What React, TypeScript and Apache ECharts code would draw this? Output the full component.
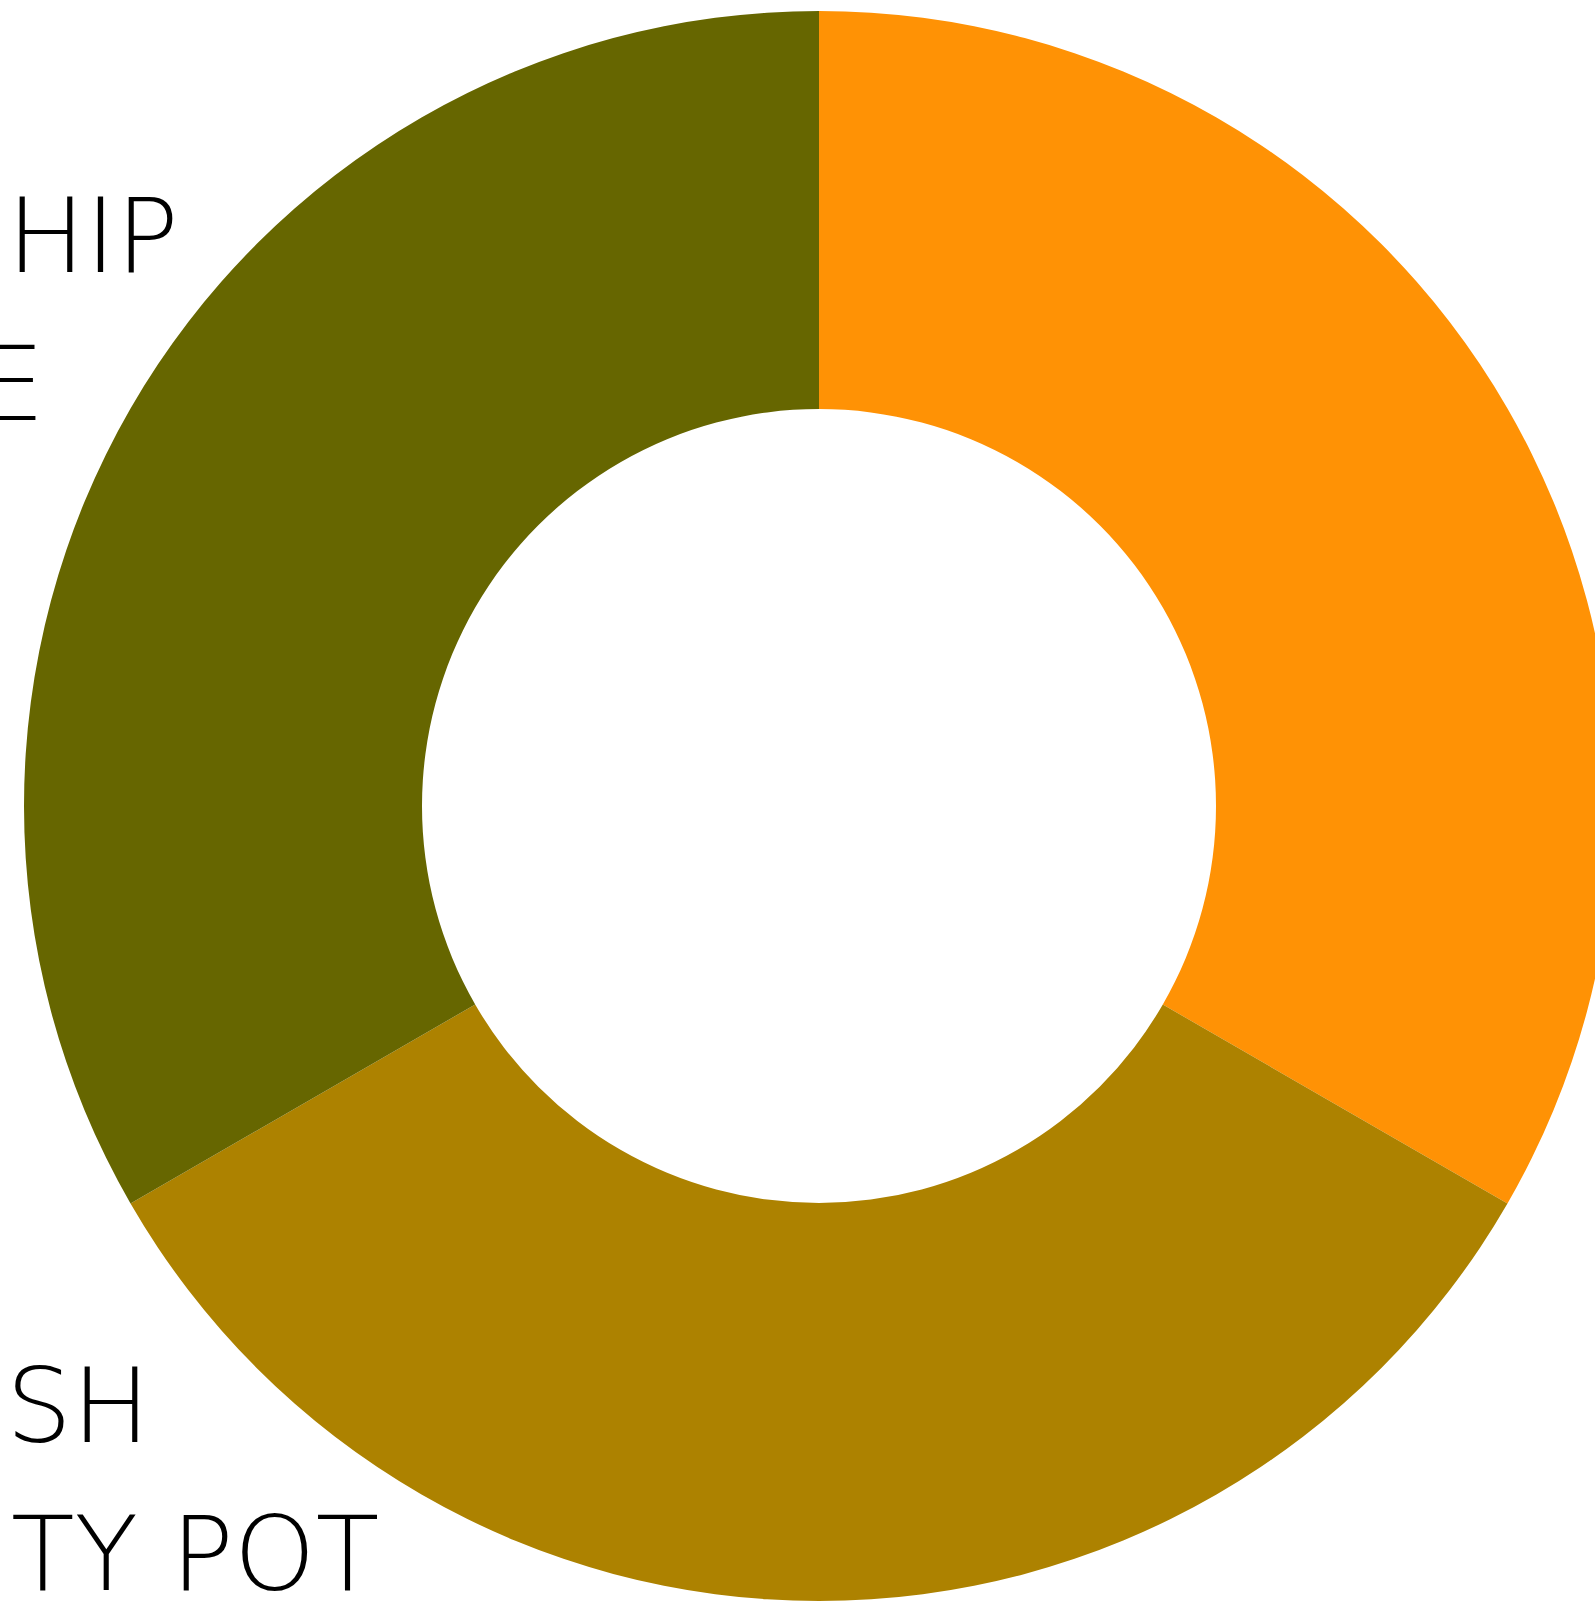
import React, { useEffect, useRef } from "react";
import * as echarts from "echarts";

const categories = ["Orange", "Gold", "Olive"];
const values = [1, 1, 1];
const colors = ["#FF9205", "#AD8200", "#666600"];
const labelFragments = ["HIP", "E", "SH", "TY POT"];

export default function App() {
  const ref = useRef<HTMLDivElement>(null);
  useEffect(() => {
    if (!ref.current) return;
    const chart = echarts.init(ref.current, null, { renderer: "svg" });
    const pos = [
      { x: 7, y: 236 },
      { x: -21, y: 384 },
      { x: 6, y: 1406 },
      { x: 11, y: 1554 },
    ];
    chart.setOption({
      animation: false,
      backgroundColor: "#ffffff",
      series: [
        {
          type: "pie",
          center: [819, 806],
          radius: [397, 795],
          startAngle: 90,
          clockwise: true,
          label: { show: false },
          labelLine: { show: false },
          emphasis: { disabled: true },
          silent: true,
          itemStyle: { borderWidth: 0 },
          data: categories.map((c, i) => ({
            name: c,
            value: values[i],
            itemStyle: { color: colors[i] },
          })),
        },
      ],
      graphic: labelFragments.map((t, i) => ({
        type: "text",
        x: pos[i].x,
        y: pos[i].y,
        z: 10,
        style: {
          text: t,
          fill: "#000000",
          font: "200 104px 'DejaVu Sans'",
          textAlign: "left",
          textVerticalAlign: "middle",
        },
      })),
    });
    return () => chart.dispose();
  }, []);
  return (
    <div
      ref={ref}
      style={{ position: "absolute", left: 0, top: 0, width: 1595, height: 1604 }}
    />
  );
}
